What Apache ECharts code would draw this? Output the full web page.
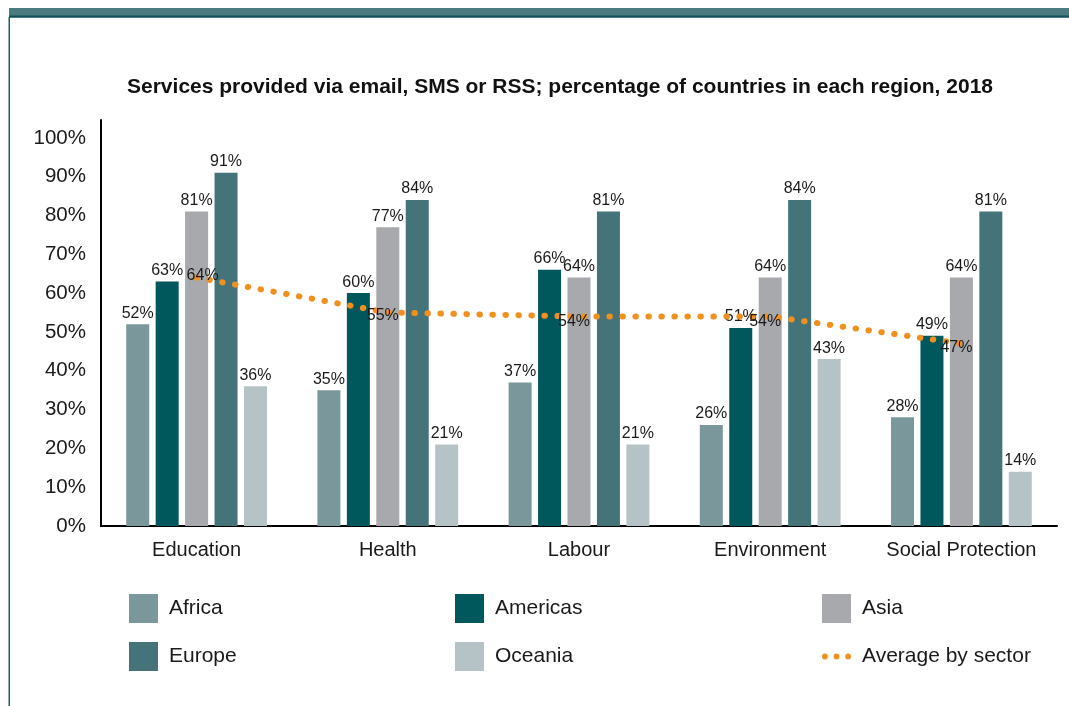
<!DOCTYPE html>
<html>
<head>
<meta charset="utf-8">
<script src="https://cdn.jsdelivr.net/npm/echarts@6/dist/echarts.min.js"></script>
<style>
html,body{margin:0;padding:0;background:#fff;}
#chart{width:1069px;height:706px;}
</style>
</head>
<body>
<div id="chart"></div>
<script>
const categories = ['Education', 'Health', 'Labour', 'Environment', 'Social Protection'];
const africa   = [52, 35, 37, 26, 28];
const americas = [63, 60, 66, 51, 49];
const asia     = [81, 77, 64, 64, 64];
const europe   = [91, 84, 81, 84, 81];
const oceania  = [36, 21, 21, 43, 14];
const average  = [64, 55, 54, 54, 47];
const yTicks   = [0, 10, 20, 30, 40, 50, 60, 70, 80, 90, 100];

const FONT = 'Liberation Sans';
const avgLabelOffsets = [[6, -2], [-5, 3], [-5, 5], [-5, 5], [-5, 4]];

const chart = echarts.init(document.getElementById('chart'), null, {renderer: 'canvas'});

function barSeries(name, data, color) {
  return {
    name: name, type: 'bar', data: data, barWidth: 23, barGap: '28%',
    itemStyle: {color: color},
    label: {show: true, position: 'top', distance: 3, formatter: '{c}%',
            fontFamily: FONT, fontSize: 16, color: '#1a1a1a'}
  };
}

const dotsIcon = 'path://M0,3a3,3 0 1,0 6,0a3,3 0 1,0 -6,0z M12,3a3,3 0 1,0 6,0a3,3 0 1,0 -6,0z M24,3a3,3 0 1,0 6,0a3,3 0 1,0 -6,0z';

const legendCommon = {
  orient: 'vertical', itemWidth: 29, itemHeight: 29, itemGap: 19, padding: 0,
  icon: 'rect',
  textStyle: {fontFamily: FONT, fontSize: 21, color: '#1a1a1a', padding: [0, 0, 0, 6]},
  selectedMode: false, top: 594
};

const option = {
  backgroundColor: '#ffffff',
  animation: false,
  title: {
    text: 'Services provided via email, SMS or RSS; percentage of countries in each region, 2018',
    left: 560, textAlign: 'center', top: 77, padding: 0,
    textStyle: {fontFamily: FONT, fontSize: 21, fontWeight: 'bold', color: '#111'}
  },
  graphic: [
    {type: 'rect', shape: {x: 9, y: 8, width: 1060, height: 10}, style: {fill: '#4b7b81'}},
    {type: 'rect', shape: {x: 9, y: 15.5, width: 1060, height: 1.5}, style: {fill: '#0e5157'}},
    {type: 'rect', shape: {x: 8.5, y: 17, width: 1.5, height: 689}, style: {fill: '#1d6066'}}
  ],
  grid: {left: 101, right: 12, top: 120, bottom: 180, containLabel: false},
  xAxis: {
    type: 'category', data: categories,
    axisLine: {lineStyle: {color: '#000', width: 2}},
    axisTick: {show: false},
    axisLabel: {fontFamily: FONT, fontSize: 20, color: '#1a1a1a', margin: 14,
                interval: 0, hideOverlap: false}
  },
  yAxis: {
    type: 'value', min: 0, max: 104.6, interval: 10,
    axisLine: {show: true, lineStyle: {color: '#000', width: 2}},
    axisTick: {show: false},
    splitLine: {show: false},
    axisLabel: {
      fontFamily: FONT, fontSize: 20.5, color: '#1a1a1a', margin: 15,
      showMaxLabel: false,
      formatter: function (v) { return yTicks.indexOf(v) >= 0 ? v + '%' : ''; }
    }
  },
  legend: [
    Object.assign({}, legendCommon, {left: 129, data: ['Africa', 'Europe']}),
    Object.assign({}, legendCommon, {left: 455, data: ['Americas', 'Oceania']}),
    Object.assign({}, legendCommon, {left: 822, itemGap: 23, data: [
      {name: 'Asia', icon: 'rect'},
      {name: 'Average by sector', icon: dotsIcon, itemStyle: {color: '#f0901e'}}
    ]})
  ],
  series: [
    barSeries('Africa', africa, '#7a979c'),
    barSeries('Americas', americas, '#00585c'),
    barSeries('Asia', asia, '#a8a9ad'),
    barSeries('Europe', europe, '#44747a'),
    barSeries('Oceania', oceania, '#b5c3c7'),
    {
      name: 'Average by sector', type: 'line',
      data: average.map(function (v, i) {
        return {value: v, label: {offset: avgLabelOffsets[i]}};
      }),
      symbol: 'circle', symbolSize: 0.1, showSymbol: true,
      itemStyle: {color: '#f0901e'},
      lineStyle: {color: '#f0901e', width: 6, type: [0.5, 12.5], cap: 'round'},
      label: {show: true, position: 'inside', formatter: '{c}%',
              fontFamily: FONT, fontSize: 16, color: '#1a1a1a'},
      z: 5
    }
  ]
};
chart.setOption(option);
</script>
</body>
</html>
